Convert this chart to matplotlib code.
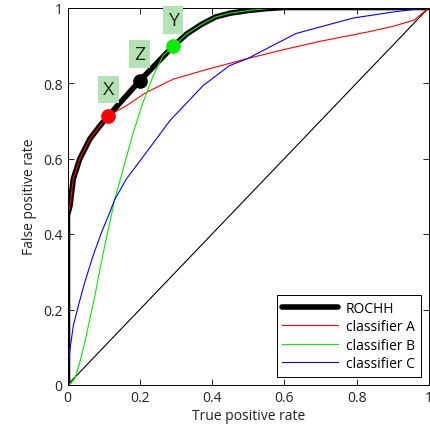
import matplotlib
matplotlib.use("Agg")
import matplotlib.pyplot as plt

plt.rcParams['font.family'] = ['Open Sans', 'DejaVu Sans']

# ROC convex hull
hull_x = [0, 0, 0.007, 0.016, 0.034, 0.062, 0.09, 0.113, 0.20, 0.292,
          0.33, 0.37, 0.41, 0.45, 0.50, 0.55, 0.60, 0.70, 1.0]
hull_y = [0, 0.45, 0.475, 0.546, 0.599, 0.652, 0.687, 0.713, 0.806, 0.897,
          0.93, 0.955, 0.975, 0.985, 0.992, 0.997, 1.0, 1.0, 1.0]

# classifier A
a_x = [0, 0, 0.007, 0.016, 0.034, 0.062, 0.09, 0.113, 0.163, 0.218, 0.292, 0.375,
       0.499, 0.605, 0.697, 0.76, 0.83, 0.90, 0.96, 1.0]
a_y = [0, 0.45, 0.475, 0.546, 0.599, 0.652, 0.687, 0.713, 0.74, 0.775, 0.81, 0.833,
       0.865, 0.89, 0.91, 0.922, 0.935, 0.95, 0.967, 1.0]

# classifier B
b_x = [0, 0.01, 0.02, 0.034, 0.048, 0.062, 0.076, 0.09, 0.103, 0.117, 0.131, 0.154,
       0.182, 0.209, 0.237, 0.264, 0.292, 0.33, 0.37, 0.41, 0.45, 0.50, 0.55, 0.60,
       0.70, 1.0]
b_y = [0, 0.004, 0.016, 0.06, 0.114, 0.175, 0.237, 0.307, 0.369, 0.43, 0.493, 0.572,
       0.669, 0.749, 0.819, 0.872, 0.897, 0.93, 0.955, 0.975, 0.985, 0.992, 0.997, 1.0,
       1.0, 1.0]

# classifier C
c_x = [0, 0.002, 0.007, 0.016, 0.03, 0.048, 0.071, 0.094, 0.117, 0.13, 0.163, 0.218,
       0.283, 0.375, 0.448, 0.499, 0.559, 0.632, 0.697, 0.79, 0.90, 1.0]
c_y = [0, 0.05, 0.095, 0.157, 0.21, 0.273, 0.343, 0.404, 0.457, 0.49, 0.546, 0.616,
       0.70, 0.793, 0.846, 0.865, 0.895, 0.931, 0.948, 0.972, 0.988, 1.0]

# operating points
pt_names = ['X', 'Z', 'Y']
pt_x = [0.113, 0.20, 0.292]
pt_y = [0.713, 0.806, 0.897]
pt_colors = ['#ff0000', 'black', '#00ee00']

ticks = [0, 0.2, 0.4, 0.6, 0.8, 1]
tick_labels = ['0', '0.2', '0.4', '0.6', '0.8', '1']

fig = plt.figure(figsize=(4.30, 4.35), dpi=100)
ax = fig.add_axes([67.5 / 430, 49 / 435, 361.5 / 430, 377.5 / 435])

ax.plot([0, 1], [0, 1], color='black', lw=0.8)
ax.plot(hull_x, hull_y, color='black', lw=4, solid_capstyle='round', label='ROCHH')
ax.plot(a_x, a_y, color='#ff0000', lw=0.8, label='classifier A')
ax.plot(b_x, b_y, color='#00ee00', lw=0.8, label='classifier B')
ax.plot(c_x, c_y, color='#0000ff', lw=0.8, label='classifier C')

for name, x, y, c in zip(pt_names, pt_x, pt_y, pt_colors):
    ax.plot(x, y, 'o', color=c, markersize=9.5, zorder=5)
    ax.annotate(name, (x, y), xytext=(0, 19), textcoords='offset points',
                ha='center', va='center', fontsize=14, color='#222222',
                bbox=dict(boxstyle='square,pad=0.25', fc='#b3e3b3', ec='none'))

ax.set_xlim(0, 1)
ax.set_ylim(0, 1)
ax.set_xticks(ticks)
ax.set_xticklabels(tick_labels)
ax.set_yticks(ticks)
ax.set_yticklabels(tick_labels)
ax.tick_params(direction='in', top=True, right=True, length=4, labelsize=10,
               labelcolor='#222222', width=0.6)
for s in ax.spines.values():
    s.set_linewidth(0.7)

ax.set_xlabel('True positive rate', fontsize=10, color='#222222', labelpad=2)
ax.set_ylabel('False positive rate', fontsize=10, color='#222222', labelpad=4)

leg = ax.legend(loc='lower right', fontsize=10, handlelength=4, fancybox=False,
                framealpha=1, edgecolor='black', borderaxespad=0.6,
                labelspacing=0.25, handletextpad=0.6)
leg.get_frame().set_linewidth(0.7)

fig.savefig('out.png', dpi=100)
